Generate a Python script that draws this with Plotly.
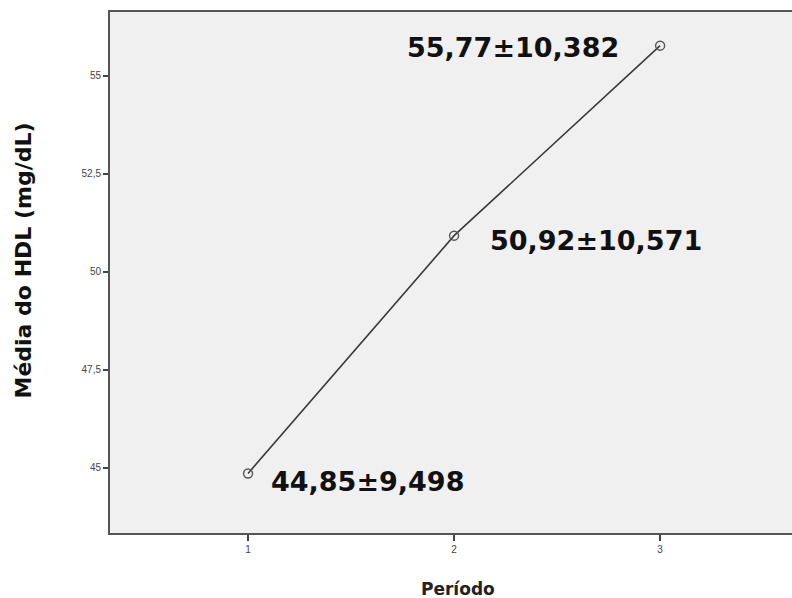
import plotly.graph_objects as go

# Mean HDL per period
periodos = [1, 2, 3]
media_hdl = [44.85, 50.92, 55.77]
desvio_hdl = [9.498, 10.571, 10.382]

y_ticks = [45, 47.5, 50, 52.5, 55]
y_tick_text = ["45", "47,5", "50", "52,5", "55"]
x_ticks = [1, 2, 3]
x_tick_text = ["1", "2", "3"]


def fmt(v, nd):
    return f"{v:.{nd}f}".replace(".", ",")


labels = [f"{fmt(m, 2)}±{fmt(s, 3)}" for m, s in zip(media_hdl, desvio_hdl)]

BOLD_FONT = "DejaVu Sans, Arial, sans-serif"

fig = go.Figure()
fig.add_trace(go.Scatter(
    x=periodos, y=media_hdl, mode="lines+markers",
    line=dict(color="#3a3a3a", width=1.6),
    marker=dict(symbol="circle-open", size=9, color="#555555",
                line=dict(width=1.4, color="#555555")),
    hoverinfo="skip", showlegend=False,
))

# value labels placed beside each point (pixel offsets)
offsets = [(119, -8), (142, -5), (-147, -2)]
for x, y, txt, (dx, dy) in zip(periodos, media_hdl, labels, offsets):
    fig.add_annotation(
        x=x, y=y, text=f"<b>{txt}</b>", showarrow=False,
        xanchor="center", yanchor="middle", xshift=dx, yshift=dy,
        font=dict(family=BOLD_FONT, size=27, color="#111111"),
    )

# axis titles
fig.add_annotation(
    xref="paper", yref="paper", x=0, y=0.5, xshift=-87, yshift=12,
    text="<b>Média do HDL (mg/dL)</b>", textangle=-90, showarrow=False,
    xanchor="center", yanchor="middle",
    font=dict(family=BOLD_FONT, size=22, color="#111111"),
)
fig.add_annotation(
    xref="paper", yref="paper", x=0, y=0, xshift=348, yshift=-56,
    text="<b>Período</b>", showarrow=False,
    xanchor="center", yanchor="middle",
    font=dict(family=BOLD_FONT, size=17, color="#222222"),
)

fig.update_layout(
    width=792, height=598,
    margin=dict(l=110, r=0, t=12, b=65),
    paper_bgcolor="white", plot_bgcolor="#f0f0f0",
    font=dict(family="Liberation Sans, Arial, sans-serif", color="#222222"),
)

fig.update_xaxes(
    range=[0.33, 3.64], tickmode="array", tickvals=x_ticks, ticktext=x_tick_text,
    showgrid=False, zeroline=False,
    showline=True, linecolor="#555555", linewidth=2, mirror=True,
    ticks="outside", ticklen=6, tickwidth=1.5, tickcolor="#444444",
    tickfont=dict(size=10, color="#444444"),
)
fig.update_yaxes(
    range=[43.33, 56.63], tickmode="array", tickvals=y_ticks, ticktext=y_tick_text,
    showgrid=False, zeroline=False,
    showline=True, linecolor="#555555", linewidth=2, mirror=False,
    ticks="outside", ticklen=5, tickwidth=1.5, tickcolor="#444444",
    tickfont=dict(size=10, color="#444444"),
)

fig.write_html("out.html")
